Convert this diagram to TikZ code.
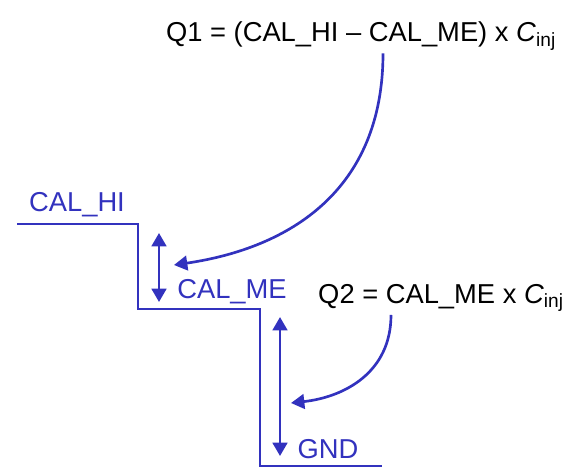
\documentclass[tikz,border=0pt]{standalone}
\usepackage{fontspec}
\setmainfont{Liberation Sans}
\usetikzlibrary{arrows.meta}

\definecolor{calblue}{RGB}{50,50,190}

\begin{document}
\begin{tikzpicture}[x=0.75pt,y=0.75pt,yscale=-1,xscale=1,
  level/.style={color=calblue,line width=1.1pt},
  swing/.style={color=calblue,line width=2pt,{Triangle[length=10pt,width=11pt]}-{Triangle[length=10pt,width=11pt]}},
  inject/.style={color=calblue,line width=2pt,-{Triangle[length=10pt,width=11pt]}},
  lbl/.style={color=calblue,inner sep=0.75pt,font=\fontsize{20.5}{23}\selectfont},
  eqn/.style={inner sep=0.75pt,font=\fontsize{20.5}{23}\selectfont}]
\useasboundingbox (0,0) rectangle (573,469);

%Staircase
\draw [level] (17,224) -- (138,224) -- (138,309) -- (260,309) -- (260,466) -- (382,466) ;

% Text Node
\node [lbl] (calhi) at (77,205) {CAL\_HI};
% Text Node
\node [lbl] (calme) at (232,292) {CAL\_ME};
% Text Node
\node [lbl] (gnd) at (328,449) {GND};
% Text Node
\node [eqn] (qone) at (361,36) {Q1 = (CAL\_HI – CAL\_ME) x \textit{C}\textsubscript{inj}};
% Text Node
\node [eqn] (qtwo) at (441,298) {Q2 = CAL\_ME x \textit{C}\textsubscript{inj}};

\coordinate (hitop) at (159,233);
\coordinate (mebot) at (159,302);
\coordinate (metop) at (280,317);
\coordinate (gndbot) at (280,456);
\coordinate (q1tip) at (174,265);
\coordinate (q2tip) at (291,403);

%Double arrows
\draw [swing] (hitop) -- (mebot) ;
\draw [swing] (metop) -- (gndbot) ;

%Curve Lines
\draw [inject] (qone.south -| 383,0) ++(0,2) .. controls (383,190) and (290,248) .. (q1tip) ;
\draw [inject] (qtwo.south -| 391,0) ++(0,2) .. controls (391,372) and (345,397) .. (q2tip) ;

\end{tikzpicture}
\end{document}
